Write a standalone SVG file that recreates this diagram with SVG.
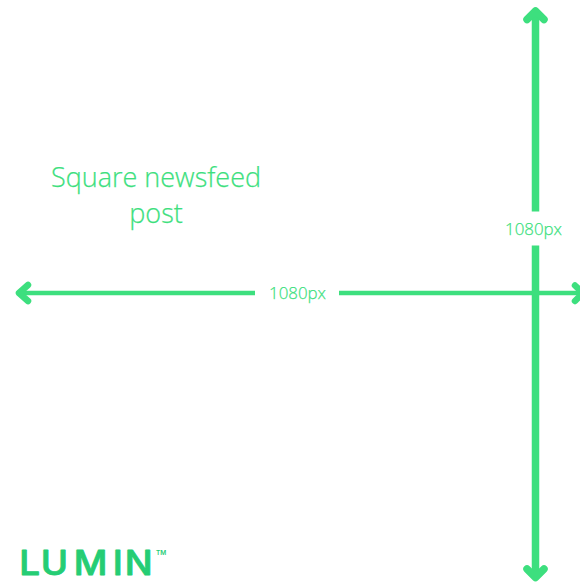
<svg xmlns="http://www.w3.org/2000/svg" width="580" height="583" viewBox="0 0 580 583">
<style>
.s{fill:none;stroke:#3ddf7e}
.h{fill:none;stroke:#3ddf7e;stroke-linecap:round;stroke-linejoin:round}
.t{font-family:"Open Sans","Noto Sans",sans-serif;font-weight:300;fill:#3ddf7e;stroke:#3ddf7e;stroke-width:.25;text-anchor:middle}
.b{font-family:Inter,sans-serif;font-weight:600;fill:#25cd74}
</style>
<rect width="580" height="583" fill="#fff"/>
<g id="connectors">
<path class="s" stroke-width="4.500" d="M255 293H20M339 293H580"/>
<path class="s" stroke-width="7.500" d="M535.500 211.500V12M535.500 245.500V575"/>
<path class="h" stroke-width="6.500" d="M28 285L19 293L28 301"/>
<path class="h" stroke-width="6.500" d="M575 285.500L583 293L575 301"/>
<path class="h" stroke-width="7.500" d="M527 19.500L535.500 11L544 19.500"/>
<path class="h" stroke-width="7.500" d="M527 569L535.500 577.500L544 569"/>
</g>
<g id="title"><text class="t" font-size="27" x="156" y="187">Square newsfeed</text><text class="t" font-size="27" x="156" y="223">post</text></g>
<g id="label-horizontal"><text class="t" font-size="16.900" x="297.500" y="299">1080px</text></g>
<g id="label-vertical"><text class="t" font-size="16.900" x="533.500" y="235">1080px</text></g>
<g id="logo"><text class="b" style="font-weight:500;stroke:#25cd74;stroke-width:.9;stroke-linejoin:round" transform="translate(0 575) scale(1.1 1)" font-size="33.500" x="17.500 37 67 102.500 113.500">LUMIN</text><text class="b" x="156" y="554.500" font-size="6.500">TM</text></g>
</svg>
